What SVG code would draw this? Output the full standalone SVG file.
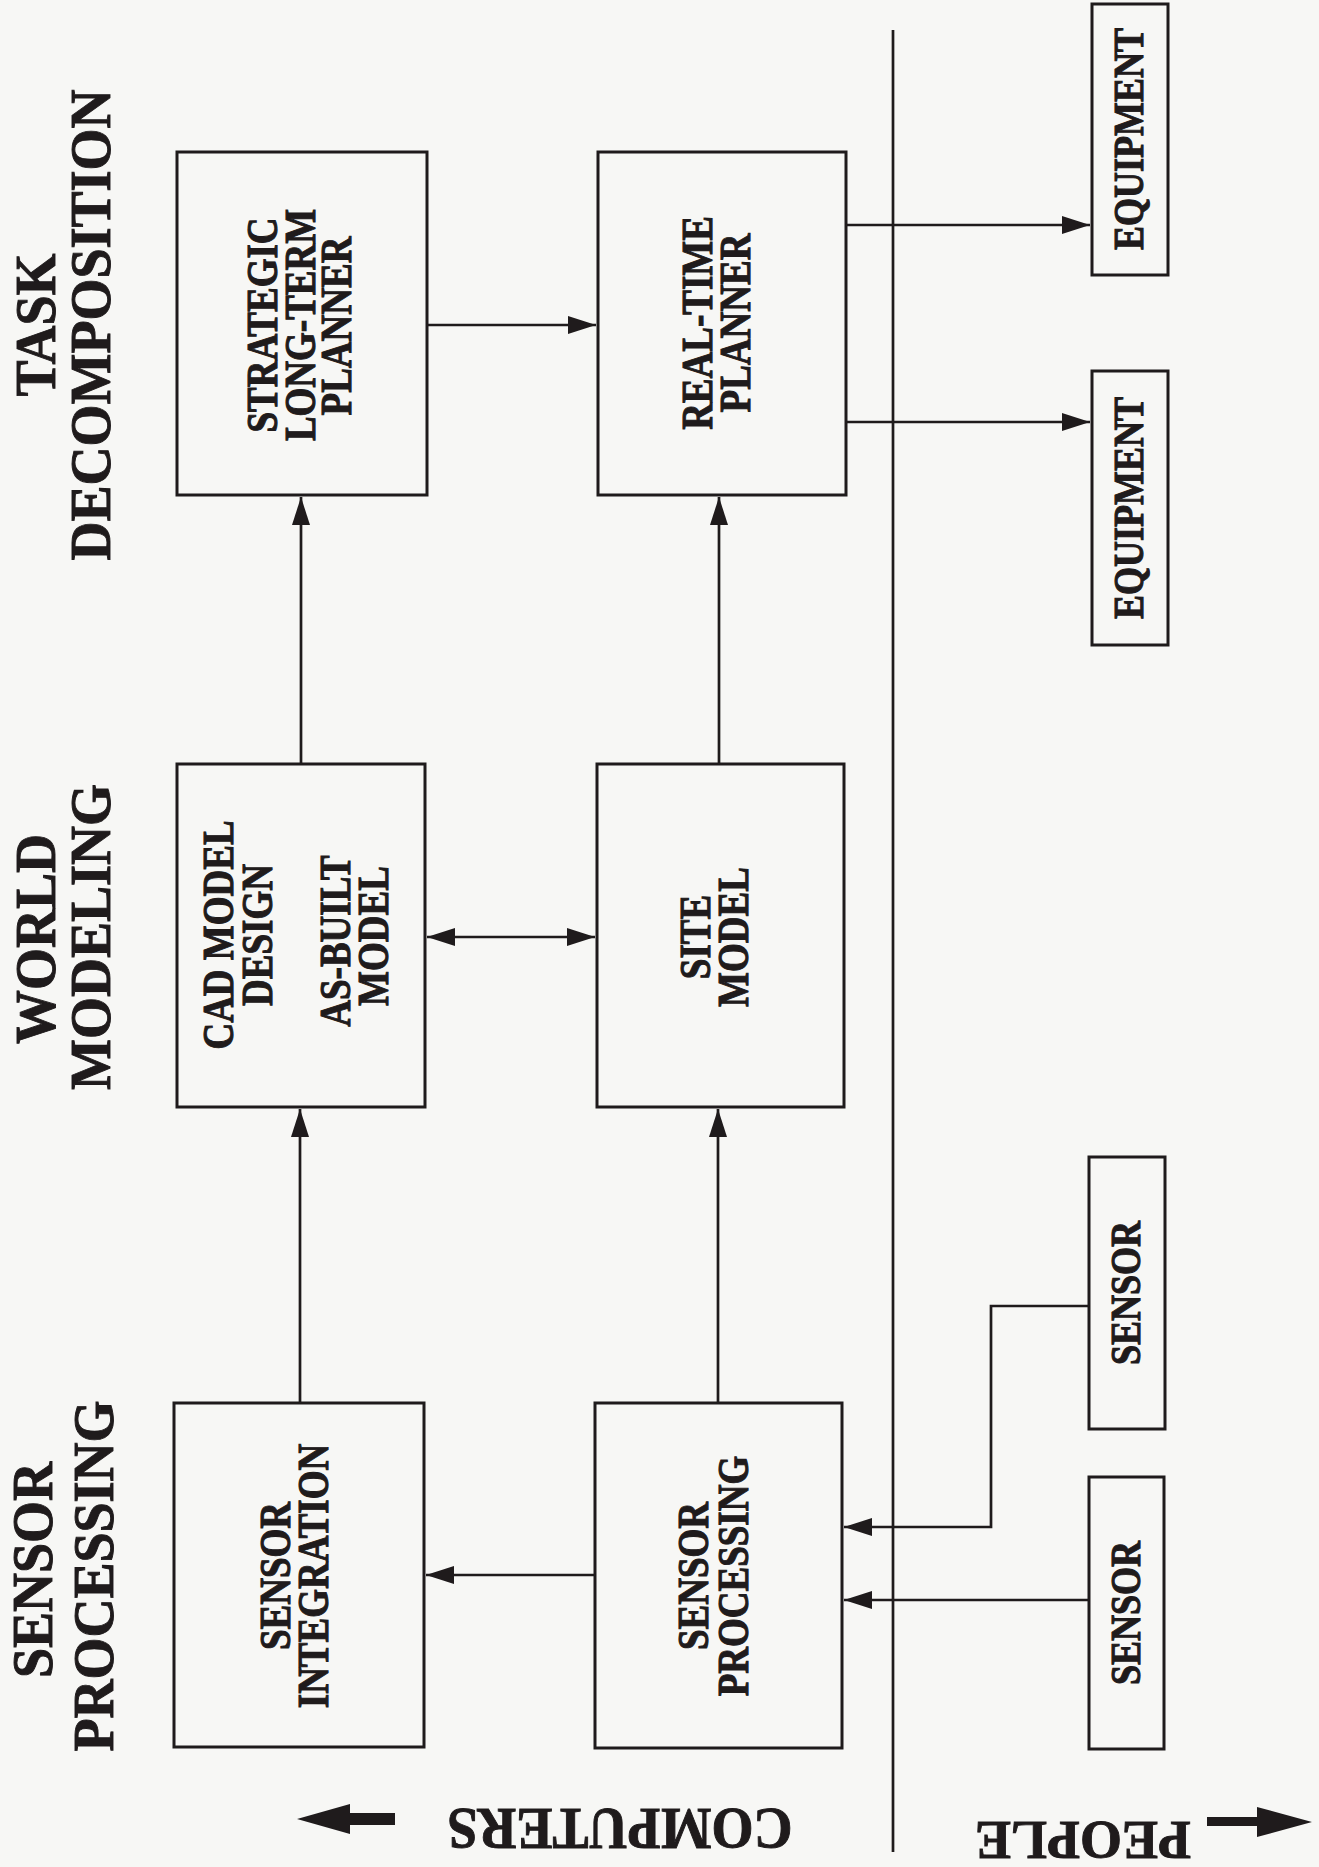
<svg xmlns="http://www.w3.org/2000/svg" width="1319" height="1867" viewBox="0 0 1319 1867">
<style>
.bg{fill:#f7f7f5}
.box{fill:none;stroke:#1f1b1c;stroke-width:3}
.ln{fill:none;stroke:#1f1b1c;stroke-width:2.7}
.t{font-family:"Liberation Serif","Times New Roman",serif;font-weight:bold;fill:#1f1b1c;stroke:#1f1b1c;stroke-width:0.9;text-anchor:middle}
.title{font-size:54px}
.lbl{font-size:37px}
.sm{font-size:36px}
.big{fill:#1f1b1c}
</style>
<defs>
<marker id="ah" markerUnits="userSpaceOnUse" markerWidth="30" markerHeight="20" refX="28" refY="9" orient="auto-start-reverse">
<path d="M0,0 L28,9 L0,18 z" fill="#1f1b1c"/>
</marker>
</defs>
<rect class="bg" x="0" y="0" width="1319" height="1867"/>

<g id="titles">
<text class="t title" transform="translate(55,325) rotate(-90) scale(1,1.05)">TASK</text>
<text class="t title" transform="translate(110,325) rotate(-90) scale(1,1.05)">DECOMPOSITION</text>
<text class="t title" transform="translate(55,939) rotate(-90) scale(1,1.05)">WORLD</text>
<text class="t title" transform="translate(110,937) rotate(-90) scale(1,1.05)">MODELING</text>
<text class="t title" transform="translate(52,1570) rotate(-90) scale(1,1.05)">SENSOR</text>
<text class="t title" transform="translate(113,1576) rotate(-90) scale(1,1.05)">PROCESSING</text>
</g>

<g id="strategic">
<rect class="box" x="177" y="152" width="250" height="343"/>
<text class="t lbl" transform="translate(277,325) rotate(-90) scale(1,1.2)">STRATEGIC</text>
<text class="t lbl" transform="translate(315,325) rotate(-90) scale(1,1.2)">LONG-TERM</text>
<text class="t lbl" transform="translate(351,326) rotate(-90) scale(1,1.2)">PLANNER</text>
</g>

<g id="realtime">
<rect class="box" x="598" y="152" width="248" height="343"/>
<text class="t lbl" transform="translate(712,323) rotate(-90) scale(1,1.2)">REAL-TIME</text>
<text class="t lbl" transform="translate(750,323) rotate(-90) scale(1,1.2)">PLANNER</text>
</g>

<g id="cad">
<rect class="box" x="177" y="764" width="248" height="343"/>
<text class="t lbl" transform="translate(233,935) rotate(-90) scale(1,1.2)">CAD MODEL</text>
<text class="t lbl" transform="translate(272,935) rotate(-90) scale(1,1.2)">DESIGN</text>
<text class="t lbl" transform="translate(350,941) rotate(-90) scale(1,1.2)">AS-BUILT</text>
<text class="t lbl" transform="translate(388,936) rotate(-90) scale(1,1.2)">MODEL</text>
</g>

<g id="site">
<rect class="box" x="597" y="764" width="247" height="343"/>
<text class="t lbl" transform="translate(710,937) rotate(-90) scale(1,1.2)">SITE</text>
<text class="t lbl" transform="translate(748,937) rotate(-90) scale(1,1.2)">MODEL</text>
</g>

<g id="sensor-integration">
<rect class="box" x="174" y="1403" width="250" height="344"/>
<text class="t lbl" transform="translate(290,1576) rotate(-90) scale(1,1.2)">SENSOR</text>
<text class="t lbl" transform="translate(328,1576) rotate(-90) scale(1,1.2)">INTEGRATION</text>
</g>

<g id="sensor-processing">
<rect class="box" x="595" y="1403" width="247" height="345"/>
<text class="t lbl" transform="translate(708,1576) rotate(-90) scale(1,1.2)">SENSOR</text>
<text class="t lbl" transform="translate(748,1576) rotate(-90) scale(1,1.2)">PROCESSING</text>
</g>

<g id="equipment-1">
<rect class="box" x="1092" y="4" width="76" height="271"/>
<text class="t sm" transform="translate(1143,139) rotate(-90) scale(1,1.2)">EQUIPMENT</text>
</g>

<g id="equipment-2">
<rect class="box" x="1092" y="371" width="76" height="274"/>
<text class="t sm" transform="translate(1143,508) rotate(-90) scale(1,1.2)">EQUIPMENT</text>
</g>

<g id="sensor-1">
<rect class="box" x="1089" y="1157" width="76" height="272"/>
<text class="t sm" transform="translate(1140,1293) rotate(-90) scale(1,1.2)">SENSOR</text>
</g>

<g id="sensor-2">
<rect class="box" x="1089" y="1477" width="75" height="272"/>
<text class="t sm" transform="translate(1140,1613) rotate(-90) scale(1,1.2)">SENSOR</text>
</g>

<g id="connectors">
<line class="ln" x1="301" y1="764" x2="301" y2="497" marker-end="url(#ah)"/>
<line class="ln" x1="300" y1="1403" x2="300" y2="1109" marker-end="url(#ah)"/>
<line class="ln" x1="719" y1="764" x2="719" y2="497" marker-end="url(#ah)"/>
<line class="ln" x1="718" y1="1403" x2="718" y2="1109" marker-end="url(#ah)"/>
<line class="ln" x1="427" y1="325" x2="596" y2="325" marker-end="url(#ah)"/>
<line class="ln" x1="427" y1="937" x2="595" y2="937" marker-start="url(#ah)" marker-end="url(#ah)"/>
<line class="ln" x1="595" y1="1575" x2="426" y2="1575" marker-end="url(#ah)"/>
<line class="ln" x1="846" y1="225" x2="1090" y2="225" marker-end="url(#ah)"/>
<line class="ln" x1="846" y1="422" x2="1090" y2="422" marker-end="url(#ah)"/>
<polyline class="ln" points="1089,1306 991,1306 991,1527 844,1527" marker-end="url(#ah)"/>
<line class="ln" x1="1089" y1="1600" x2="844" y2="1600" marker-end="url(#ah)"/>
</g>

<g id="divider">
<line class="ln" x1="893" y1="30" x2="893" y2="1852"/>
</g>

<g id="computers">
<polygon class="big" points="297,1819 350,1804 350,1813 395,1813 395,1825 350,1825 350,1834"/>
<text class="t" font-size="54" transform="translate(620,1809) rotate(180) scale(1,1.08)">COMPUTERS</text>
</g>

<g id="people">
<polygon class="big" points="1312,1822 1257,1807 1257,1817 1207,1817 1207,1826 1257,1826 1257,1837"/>
<text class="t" font-size="54" transform="translate(1083,1822) rotate(180)">PEOPLE</text>
</g>
</svg>
